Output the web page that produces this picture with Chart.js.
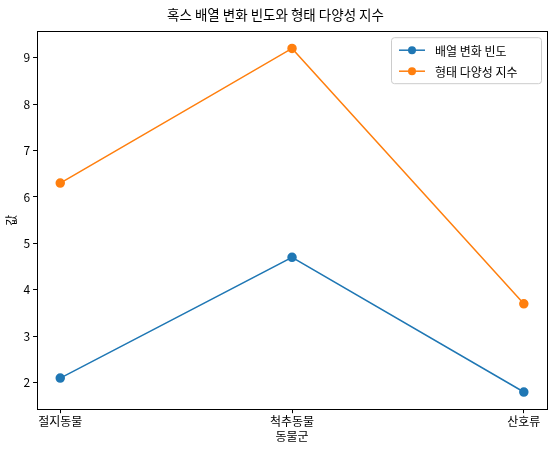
<!DOCTYPE html>
<html><head><meta charset="utf-8">
<script src="https://cdn.jsdelivr.net/npm/chart.js@4"></script>
<style>body{margin:0;background:#fff}#w{width:553px;height:454px}</style></head>
<body><div id="w"><canvas id="c"></canvas></div>
<script>
const categories = ["절지동물", "척추동물", "산호류"];
const hoxChange = [2.1, 4.7, 1.8];
const diversity = [6.3, 9.2, 3.7];
const yTicks = [2,3,4,5,6,7,8,9];
const F = "'Noto Sans CJK KR', 'DejaVu Sans', sans-serif";
const toPts = a => a.map((v,i)=>({x:i,y:v}));
const legendBox = {
  id:'legendBox',
  afterDraw(ch){
    const ctx=ch.ctx, a=ch.chartArea;
    ctx.save();
    ctx.strokeStyle='#000';ctx.lineWidth=1;
    ctx.strokeRect(Math.round(a.left)+0.5,Math.round(a.top)+0.5,Math.round(a.right-a.left),Math.round(a.bottom-a.top));
    const x0=a.right-156, y0=a.top+6, w=150, h=46;
    ctx.fillStyle='rgba(255,255,255,0.8)';ctx.strokeStyle='#ccc';
    ctx.beginPath();ctx.roundRect(x0+0.5,y0+0.5,w,h,3);ctx.fill();ctx.stroke();
    const items=[['배열 변화 빈도','#1f77b4'],['형태 다양성 지수','#ff7f0e']];
    ctx.font="12px "+F;ctx.textBaseline='middle';
    items.forEach((it,i)=>{
      const y=y0+13+i*21;
      ctx.strokeStyle=it[1];ctx.lineWidth=1.5;
      ctx.beginPath();ctx.moveTo(x0+8,y);ctx.lineTo(x0+34,y);ctx.stroke();
      ctx.fillStyle=it[1];ctx.beginPath();ctx.arc(x0+21,y,4,0,Math.PI*2);ctx.fill();
      ctx.fillStyle='#000';ctx.fillText(it[0],x0+44,y+1);
    });
    ctx.restore();
  }
};
new Chart(document.getElementById('c'),{
  type:'line',
  data:{datasets:[
    {label:'배열 변화 빈도',data:toPts(hoxChange),borderColor:'#1f77b4',backgroundColor:'#1f77b4',borderWidth:1.5,pointRadius:4,pointHoverRadius:4},
    {label:'형태 다양성 지수',data:toPts(diversity),borderColor:'#ff7f0e',backgroundColor:'#ff7f0e',borderWidth:1.5,pointRadius:4,pointHoverRadius:4}
  ]},
  options:{
    responsive:true,maintainAspectRatio:false,animation:false,
    layout:{padding:{left:4,right:6,top:0,bottom:10}},
    plugins:{
      legend:{display:false},tooltip:{enabled:false},
      title:{display:true,text:'혹스 배열 변화 빈도와 형태 다양성 지수',color:'#000',font:{family:F,size:13.5,weight:'normal'},padding:{top:7,bottom:8}}
    },
    scales:{
      x:{type:'linear',min:-0.1,max:2.1,grid:{display:true,drawOnChartArea:false,drawTicks:true,tickLength:4,color:'#000'},border:{color:'#000'},
        afterBuildTicks(s){s.ticks=[0,1,2].map(v=>({value:v}));},
        ticks:{color:'#000',font:{family:F,size:12},callback:v=>categories[v],maxRotation:0,padding:1},
        title:{display:true,text:'동물군',color:'#000',font:{family:F,size:12},padding:{top:0,bottom:0}}},
      y:{min:1.43,max:9.57,grid:{display:true,drawOnChartArea:false,drawTicks:true,tickLength:4,color:'#000'},border:{color:'#000'},
        afterBuildTicks(s){s.ticks=yTicks.map(v=>({value:v}));},
        ticks:{color:'#000',font:{family:F,size:12},padding:3},
        title:{display:true,text:'값',color:'#000',font:{family:F,size:12},padding:{top:0,bottom:2}}}
    }
  },
  plugins:[legendBox]
});
</script></body></html>
